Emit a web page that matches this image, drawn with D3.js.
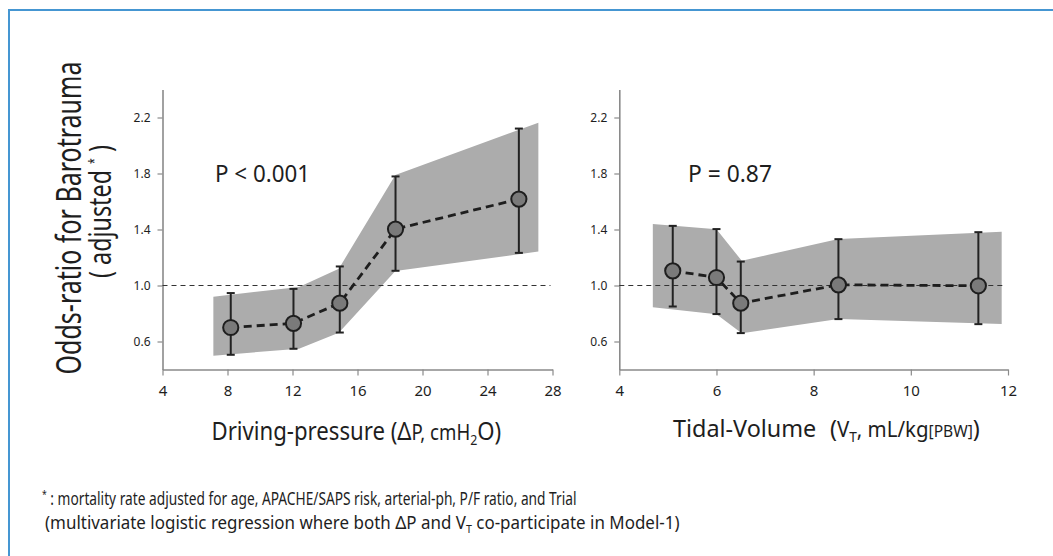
<!DOCTYPE html>
<html><head><meta charset="utf-8">
<script src="https://cdn.jsdelivr.net/npm/d3@7"></script>
<style>
html,body{margin:0;padding:0;background:#fff;}
svg{display:block;}
text{font-family:"Noto Sans","Open Sans","DejaVu Sans",sans-serif;fill:#1e1e1e;}
</style></head><body>
<svg id="chart" width="1053" height="556"></svg>
<script>
// ---------- data ----------
const yTicks = [0.6, 1.0, 1.4, 1.8, 2.2];
const dpTicks = [4, 8, 12, 16, 20, 24, 28];
const vtTicks = [4, 6, 8, 10, 12];

// Driving pressure panel
const dpX  = [8.2, 12.06, 14.91, 18.34, 25.93];
const dpOR = [0.70, 0.73, 0.874, 1.403, 1.617];
const dpLo = [0.505, 0.548, 0.664, 1.105, 1.233];
const dpHi = [0.946, 0.976, 1.136, 1.779, 2.121];
const dpBandX  = [7.13, 12.4, 14.85, 18.33, 27.13];
const dpBandLo = [0.499, 0.549, 0.663, 1.104, 1.242];
const dpBandHi = [0.920, 0.990, 1.120, 1.789, 2.163];

// Tidal volume panel
const vtX  = [5.10, 6.00, 6.50, 8.51, 11.39];
const vtOR = [1.105, 1.057, 0.874, 1.005, 0.998];
const vtLo = [0.850, 0.796, 0.660, 0.760, 0.724];
const vtHi = [1.426, 1.403, 1.171, 1.331, 1.381];
const vtBandX  = [4.69, 6.00, 6.52, 8.51, 11.87];
const vtBandLo = [0.844, 0.794, 0.659, 0.761, 0.725];
const vtBandHi = [1.439, 1.401, 1.177, 1.332, 1.384];

const refValue = 1.0;

// ---------- drawing ----------
const svg = d3.select("#chart");
svg.append("rect").attr("width", 1053).attr("height", 556).attr("fill", "#fff");

// frame (top + left blue rule)
svg.append("path").attr("d", "M9,556 V10 H1053")
  .attr("fill", "none").attr("stroke", "#4596d2").attr("stroke-width", 2);

const y = d3.scaleLinear().domain([0.4, 2.4]).range([369.5, 89.5]);

function panel(xs, ticks, X, OR, LO, HI, BX, BLO, BHI) {
  const g = svg.append("g");
  const band = BX.map((v, i) => ({x: v, lo: BLO[i], hi: BHI[i]}));
  g.append("path").datum(band)
    .attr("d", d3.area().x(d => xs(d.x)).y0(d => y(d.lo)).y1(d => y(d.hi)))
    .attr("fill", "#acacac");

  const ax = g.append("g").attr("transform", `translate(0,${y.range()[0]})`)
    .call(d3.axisBottom(xs).tickValues(ticks).tickSize(6).tickSizeOuter(0).tickPadding(10).tickFormat(d3.format("d")));
  const ay = g.append("g").attr("transform", `translate(${xs.range()[0]},0)`)
    .call(d3.axisLeft(y).tickValues(yTicks).tickSize(5).tickSizeOuter(0).tickPadding(7).tickFormat(d3.format(".1f")));
  [ax, ay].forEach(a => {
    a.select(".domain").attr("stroke", "#8a8a8a").attr("stroke-width", 1.6);
    a.selectAll(".tick line").attr("stroke", "#8a8a8a").attr("stroke-width", 1.2);
  });
  ax.selectAll("text").attr("font-size", 15).attr("fill", "#333");
  ay.selectAll("text").attr("font-size", 12).attr("fill", "#333");

  g.append("line")
    .attr("x1", xs.range()[0]).attr("x2", xs.range()[1] - 2)
    .attr("y1", y(refValue)).attr("y2", y(refValue))
    .attr("stroke", "#333").attr("stroke-width", 1).attr("stroke-dasharray", "5,4");

  const pts = X.map((v, i) => ({x: v, or: OR[i], lo: LO[i], hi: HI[i]}));
  const eb = g.append("g").attr("stroke", "#222").attr("stroke-width", 2).attr("fill", "none");
  pts.forEach(d => {
    const cx = xs(d.x);
    eb.append("line").attr("x1", cx).attr("x2", cx).attr("y1", y(d.lo)).attr("y2", y(d.hi));
    eb.append("line").attr("x1", cx - 4).attr("x2", cx + 4).attr("y1", y(d.lo)).attr("y2", y(d.lo));
    eb.append("line").attr("x1", cx - 4).attr("x2", cx + 4).attr("y1", y(d.hi)).attr("y2", y(d.hi));
  });
  g.append("path").datum(pts)
    .attr("d", d3.line().x(d => xs(d.x)).y(d => y(d.or)))
    .attr("fill", "none").attr("stroke", "#1e1e1e").attr("stroke-width", 2.8)
    .attr("stroke-dasharray", "8,5");
  g.selectAll("circle.m").data(pts).join("circle")
    .attr("cx", d => xs(d.x)).attr("cy", d => y(d.or)).attr("r", 7.6)
    .attr("fill", "#7a7a7a").attr("stroke", "#1e1e1e").attr("stroke-width", 2);
  return g;
}

const xDP = d3.scaleLinear().domain([4, 28]).range([162.5, 552.5]);
const xVT = d3.scaleLinear().domain([4, 12]).range([619.3, 1008]);
panel(xDP, dpTicks, dpX, dpOR, dpLo, dpHi, dpBandX, dpBandLo, dpBandHi);
panel(xVT, vtTicks, vtX, vtOR, vtLo, vtHi, vtBandX, vtBandLo, vtBandHi);

// text placed at (x, y) and squeezed along its reading direction to a target width
function label(x, y, size, width, opts = {}) {
  const g = svg.append("g");
  const t = g.append("text").attr("x", 0).attr("y", 0).attr("font-size", size)
    .attr("text-anchor", opts.anchor || "start");
  return {
    t,
    done() {
      const w = t.node().getBBox().width;
      const s = width / w;
      g.attr("transform", `translate(${x},${y})` + (opts.rotate ? ` rotate(${opts.rotate})` : "") + ` scale(${s},1)`);
    }
  };
}

// P-values
let L = label(215, 182, 24, 95); L.t.text("P < 0.001"); L.done();
L = label(688, 182, 24, 84); L.t.text("P = 0.87"); L.done();

// y-axis title
L = label(81, 218, 35, 313, {anchor: "middle", rotate: -90});
L.t.text("Odds-ratio for Barotrauma"); L.done();
L = label(111, 211.5, 31, 133, {anchor: "middle", rotate: -90});
L.t.append("tspan").text("( adjusted ");
L.t.append("tspan").attr("font-size", 14).attr("dy", -12).text("*");
L.t.append("tspan").attr("dy", 12).text(" )");
L.done();

// x-axis titles
L = label(211.5, 440, 25, 290);
L.t.append("tspan").text("Driving-pressure (");
L.t.append("tspan").text("Δ");
L.t.append("tspan").attr("font-size", 21).text("P, cmH");
L.t.append("tspan").attr("font-size", 14).attr("dy", 5).text("2");
L.t.append("tspan").attr("dy", -5).text("O)");
L.done();

L = label(673, 437, 24, 307);
L.t.append("tspan").text("Tidal-Volume");
L.t.append("tspan").attr("dx", 14).text("(");
L.t.append("tspan").attr("font-size", 21).text("V");
L.t.append("tspan").attr("font-size", 14).attr("dy", 5).text("T");
L.t.append("tspan").attr("font-size", 21).attr("dy", -5).text(", mL/kg");
L.t.append("tspan").attr("font-size", 16).text("[PBW]");
L.t.append("tspan").text(")");
L.done();

// footnotes
L = label(42, 505, 17.5, 535);
L.t.append("tspan").attr("font-size", 11).attr("dy", -7).text("*");
L.t.append("tspan").attr("dy", 7).text(" : mortality rate adjusted for age, APACHE/SAPS risk, arterial-ph, P/F ratio, and Trial");
L.done();
L = label(45, 529, 17.5, 635);
L.t.append("tspan").text("(multivariate logistic regression where both ");
L.t.append("tspan").attr("font-size", 18).text("Δ");
L.t.append("tspan").text("P and V");
L.t.append("tspan").attr("font-size", 11).attr("dy", 4).text("T");
L.t.append("tspan").attr("dy", -4).text(" co-participate in Model-1)");
L.done();
</script>
</body></html>
